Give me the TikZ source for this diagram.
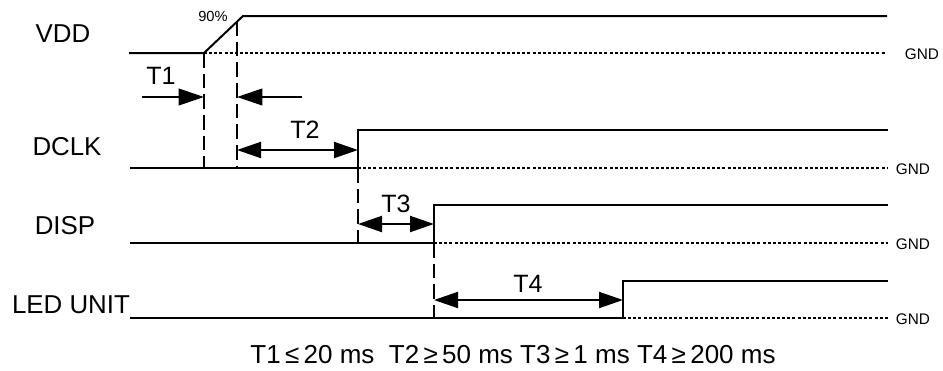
\documentclass[tikz,border=0pt]{standalone}
\usepackage{fontspec}
\setmainfont{Liberation Sans}
\usetikzlibrary{arrows.meta}
\tikzset{
  sigline/.style={line width=1.5pt},
  gndline/.style={line width=1.1pt, dash pattern=on 2.25pt off 1.6pt},
  guideline/.style={line width=1.5pt, dash pattern=on 11pt off 4.5pt},
  tiparrow/.style={line width=1.5pt, -{Triangle[length=19pt,width=12.5pt]}},
  spanarrow/.style={line width=1.5pt, {Triangle[length=18pt,width=12pt]}-{Triangle[length=18pt,width=12pt]}},
  siglabel/.style={font=\fontsize{19.4}{21}\selectfont},
  tlabel/.style={font=\fontsize{18.8}{20}\selectfont},
  gndlabel/.style={font=\fontsize{11.5}{12}\selectfont},
}
\begin{document}
\begin{tikzpicture}[x=0.75pt,y=0.75pt,yscale=-1,xscale=1]
        \useasboundingbox (0,0) rectangle (943,371);
        % Text Node
        \draw (63,34) node [siglabel] (vdd) {VDD};
        \draw (67,147) node [siglabel] (dclk) {DCLK};
        \draw (65,226) node [siglabel] (disp) {DISP};
        \draw (71,305) node [siglabel] (led) {LED UNIT};
        % Edges
        \coordinate (vddlow) at (204,53);
        \coordinate (vddhigh) at (243,16);
        \coordinate (vddnine) at (237,21);
        \coordinate (dclkup) at (358,168);
        \coordinate (dispup) at (434,243);
        \coordinate (ledup) at (623,318);
        % VDD
        \draw [sigline] (129,53) -- (vddlow) -- (vddhigh) -- (887,16);
        \draw [gndline] (vddlow) -- (885,53);
        \draw (922,54) node [gndlabel] (gnda) {GND};
        \draw (213,16) node [font=\fontsize{11}{12}\selectfont] (nine) {90\%};
        % DCLK
        \draw [sigline] (130,168) -- (dclkup) -- (358,130) -- (888,130);
        \draw [gndline] (dclkup) -- (888,168);
        \draw (913,169) node [gndlabel] (gndb) {GND};
        % DISP
        \draw [sigline] (130,243) -- (dispup) -- (434,205) -- (888,205);
        \draw [gndline] (dispup) -- (888,243);
        \draw (913,244) node [gndlabel] (gndc) {GND};
        % LED UNIT
        \draw [sigline] (130,318) -- (ledup) -- (623,281) -- (888,281);
        \draw [gndline] (ledup) -- (888,318);
        \draw (913,319) node [gndlabel] (gndd) {GND};
        % Guides
        \draw [guideline] (vddlow) -- (204,168);
        \draw [guideline] (vddnine) -- (237,168);
        \draw [guideline] (dclkup) -- (358,243);
        \draw [guideline] (dispup) -- (434,318);
        % Connection
        \coordinate (tonea) at (142,97);
        \coordinate (toneb) at (302,97);
        \draw [tiparrow] (tonea) -- (204,97);
        \draw [tiparrow] (toneb) -- (237,97);
        \draw (161,76) node [tlabel] (tone) {T1};
        % Connection
        \draw [spanarrow] (237,150) -- (358,150);
        \draw (305,130) node [tlabel] (ttwo) {T2};
        % Connection
        \draw [spanarrow] (358,224) -- (434,224);
        \draw (396,204) node [tlabel] (tthree) {T3};
        % Connection
        \draw [spanarrow] (434,300) -- (623,300);
        \draw (528,284) node [tlabel] (tfour) {T4};
        % Text Node
        \draw (513,355) node [font=\fontsize{19.5}{21}\selectfont] (limits) {T1\,≤\,20 ms\ \ T2\,≥\,50 ms T3\,≥\,1 ms T4\,≥\,200 ms};
\end{tikzpicture}
\end{document}
